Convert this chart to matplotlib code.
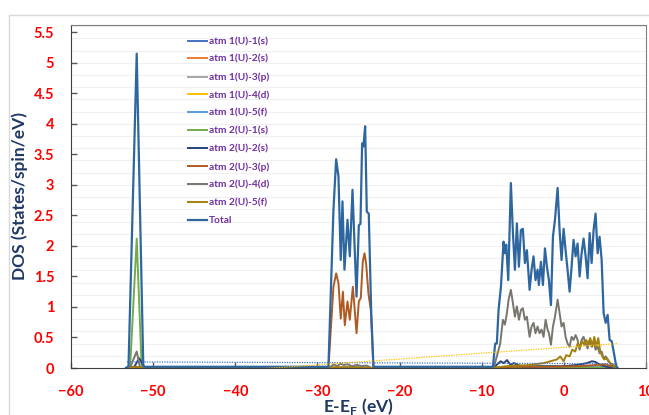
import numpy as np
import matplotlib.pyplot as plt
from matplotlib.patches import Rectangle

# Energies (eV) and DOS values (states/spin/eV)

# Total
e_tot = [-53.3, -53.0, -52.0, -51.2, -51.0,
         -28.66, -28.05, -27.72, -27.44, -27.16, -26.95, -26.71, -26.34, -26.06, -25.73,
         -25.49, -25.24, -24.96, -24.76, -24.56, -24.4, -24.19, -23.99, -23.75, -23.46, -23.18,
         -8.64, -8.36, -8.16, -7.95, -7.66, -7.34, -7.18, -7.01, -6.77, -6.45, -6.2, -5.96,
         -5.72, -5.47, -5.23, -4.99, -4.74, -4.5, -4.17, -3.93, -3.69, -3.45, -3.2, -3.04,
         -2.79, -2.55, -2.3, -2.06, -1.82, -1.57, -1.33, -1.08, -0.76, -0.52, -0.28, -0.03,
         0.21, 0.45, 0.7, 0.94, 1.18, 1.43, 1.67, 1.92, 2.16, 2.4, 2.65, 2.89, 3.14, 3.38,
         3.62, 3.86, 4.11, 4.35, 4.6, 4.84, 5.09, 5.33, 5.57, 5.82, 6.06, 6.31, 6.47]
d_tot = [0, 0.03, 5.15, 0.03, 0.02,
         0.02, 2.59, 3.42, 3.14, 1.77, 2.73, 1.61, 2.43, 1.83, 2.92,
         2.05, 1.17, 2.34, 2.36, 3.68, 3.63, 3.96, 2.56, 2.53, 0.95, 0.02,
         0.02, 0.40, 0.40, 0.95, 1.33, 2.07, 1.88, 2.02, 1.44, 3.03, 2.21, 1.61,
         2.37, 1.66, 2.26, 2.28, 1.72, 1.93, 1.28, 1.61, 1.83, 1.44, 1.61, 1.36,
         1.74, 1.36, 1.96, 1.66, 1.44, 1.03, 2.15, 2.43, 2.95, 2.26, 1.77, 2.28,
         1.93, 1.61, 1.25, 1.66, 2.10, 1.83, 2.04, 1.50, 1.88, 2.12, 1.83, 1.47, 2.21, 1.72,
         2.26, 2.53, 1.88, 2.15, 1.77, 0.90, 0.74, 0.87, 0.46, 0.44, 0.27, 0.08, 0]

# atm 2(U)-3(p)
e_23p = [-53.3, -51.0, -28.66, -28.05, -27.72, -27.44, -27.16, -26.9, -26.67, -26.34, -26.06,
         -25.69, -25.49, -25.24, -24.96, -24.72, -24.48, -24.27, -24.07, -23.79, -23.5, -23.18,
         -8.6, -6.0, -2.0, 2.0, 4.0, 5.0, 5.8, 6.5]
d_23p = [0, 0, 0, 1.33, 1.55, 1.39, 0.81, 1.25, 0.70, 1.09, 0.79,
         1.33, 1.00, 0.57, 1.09, 1.15, 1.74, 1.88, 1.71, 1.22, 0.95, 0,
         0, 0.02, 0.02, 0.03, 0.05, 0.06, 0.03, 0]

# atm 2(U)-4(d)
e_24d = [-53.3, -52.8, -52.0, -51.6, -51.0,
         -28.6, -28.0, -27.6, -27.2, -26.8, -26.3, -25.8, -25.2, -24.6, -24.0, -23.4,
         -8.56, -8.16, -7.75, -7.42, -7.18, -6.93, -6.73, -6.45, -6.2, -5.96, -5.72, -5.47,
         -5.23, -4.99, -4.74, -4.5, -4.17, -3.93, -3.69, -3.45, -3.2, -2.96, -2.71, -2.47,
         -2.22, -1.98, -1.82, -1.57, -1.33, -1.08, -0.76, -0.52, -0.28, -0.03, 0.21, 0.45,
         0.7, 0.94, 1.18, 1.43, 1.67, 1.92, 2.16, 2.4, 2.65, 2.89, 3.14, 3.38, 3.62, 3.86,
         4.11, 4.35, 4.6, 4.84, 5.09, 5.41, 5.82, 6.26]
d_24d = [0, 0.01, 0.27, 0.01, 0,
         0, 0.06, 0.03, 0.07, 0.05, 0.06, 0.03, 0.05, 0.03, 0.04, 0,
         0, 0.19, 0.40, 0.79, 0.71, 0.90, 1.12, 1.28, 1.06, 0.84, 1.01, 0.79,
         0.95, 0.98, 0.79, 0.84, 0.51, 0.68, 0.74, 0.57, 0.68, 0.57, 0.63, 0.51,
         0.79, 0.63, 0.57, 0.38, 0.68, 0.84, 1.12, 0.90, 0.68, 0.74, 0.51, 0.40,
         0.35, 0.51, 0.46, 0.54, 0.46, 0.30, 0.46, 0.51, 0.40, 0.32, 0.46, 0.35, 0.44, 0.30,
         0.35, 0.24, 0.27, 0.16, 0.19, 0.11, 0.05, 0]

# atm 2(U)-5(f)
e_25f = [-53.3, -52.0, -51.0, -28.6, -26.0, -23.3, -8.6, -7.0, -4.1, -2.47, -1.65, -0.85,
         -0.44, -0.03, 0.29, 0.7, 1.02, 1.39, 1.67, 2.0, 2.24, 2.49, 2.73, 2.97, 3.22,
         3.46, 3.7, 3.95, 4.19, 4.43, 4.68, 4.92, 5.25, 5.65, 6.06, 6.39]
d_25f = [0, 0.02, 0, 0.01, 0.01, 0, 0, 0.03, 0.05, 0.08, 0.11, 0.14,
         0.19, 0.11, 0.21, 0.19, 0.30, 0.27, 0.40, 0.35, 0.44, 0.38, 0.46, 0.38, 0.49,
         0.35, 0.51, 0.35, 0.49, 0.27, 0.19, 0.14, 0.16, 0.08, 0.05, 0]

# atm 2(U)-2(s)
e_22s = [-53.3, -52.3, -51.7, -51.0, -28.6, -23.3, -8.6, -7.7, -7.3, -6.93, -6.5, -6.1,
         -5.0, -2.0, 0.0, 1.59, 2.81, 3.42, 3.82, 4.43, 5.25, 6.06, 6.5]
d_22s = [0, 0.02, 0.16, 0, 0, 0, 0, 0.11, 0.08, 0.13, 0.05, 0.08,
         0.02, 0.03, 0.03, 0.05, 0.08, 0.11, 0.10, 0.05, 0.02, 0, 0]

# atm 2(U)-1(s)
e_21s = [-53.3, -52.8, -52.0, -51.4, -51.0, -28.6, -23.3, -8.6, -5.0, -3.0, -1.0, 1.0, 6.5]
d_21s = [0, 0.02, 2.12, 0.02, 0, 0, 0, 0, 0.02, 0.03, 0.02, 0.01, 0]

# atm 1(U) series: hardly off the axis
e_11s = [-53.3, -52.0, -51.0, -28.6, -26.0, -23.3, -8.6, -2.0, 3.0, 6.5]
d_11s = [0, 0.01, 0, 0, 0.01, 0, 0, 0.01, 0.01, 0]
e_12s = [-53.3, -52.0, -51.0, -28.6, -26.0, -23.3, -8.6, -2.0, 3.0, 6.5]
d_12s = [0, 0.01, 0, 0, 0.02, 0, 0, 0.01, 0.02, 0]
e_13p = [-53.3, -52.0, -51.0, -28.6, -26.0, -23.3, -8.6, -2.0, 3.0, 6.5]
d_13p = [0, 0.02, 0, 0, 0.01, 0, 0, 0.01, 0.01, 0]
e_14d = [-53.3, -52.0, -51.0, -28.6, -26.0, -23.3, -8.6, -2.0, 3.0, 6.5]
d_14d = [0, 0.01, 0, 0, 0.01, 0, 0, 0.02, 0.02, 0]
e_15f = [-53.3, -52.0, -51.0, -28.6, -26.0, -23.3, -8.6, -2.0, 3.0, 6.5]
d_15f = [0, 0.01, 0, 0, 0.01, 0, 0, 0.01, 0.02, 0]

# dotted linear trend lines (end points)
e_trend = [-53.2, 6.5]
d_trend_15f = [0.10, 0.07]
d_trend_14d = [-0.17, 0.40]

labels = ['atm 1(U)-1(s)', 'atm 1(U)-2(s)', 'atm 1(U)-3(p)', 'atm 1(U)-4(d)', 'atm 1(U)-5(f)',
          'atm 2(U)-1(s)', 'atm 2(U)-2(s)', 'atm 2(U)-3(p)', 'atm 2(U)-4(d)', 'atm 2(U)-5(f)',
          'Total']
colors = ['#4472C4', '#ED7D31', '#A5A5A5', '#FFC000', '#5B9BD5',
          '#70AD47', '#264478', '#B05A22', '#77756E', '#A4800E', '#2E67A0']
series = [(e_11s, d_11s), (e_12s, d_12s), (e_13p, d_13p), (e_14d, d_14d), (e_15f, d_15f),
          (e_21s, d_21s), (e_22s, d_22s), (e_23p, d_23p), (e_24d, d_24d), (e_25f, d_25f),
          (e_tot, d_tot)]

plt.rcParams['font.family'] = ['Lato', 'DejaVu Sans']

fig = plt.figure(figsize=(6.49, 4.15), dpi=100)
# outer chart border
fig.patches.append(Rectangle((9 / 649, -0.1), 1.2, 1 - 15 / 415 + 0.1, transform=fig.transFigure,
                             fill=False, edgecolor='#D9D9D9', linewidth=1))
ax = fig.add_axes([71 / 649, 1 - 368 / 415, 575 / 649, 343 / 415])

for (e, d), lab, c in zip(series, labels, colors):
    lw = 1.6 if lab == 'Total' else 1.4
    ax.plot(e, d, color=c, lw=lw, label=lab)

ax.plot(e_trend, d_trend_15f, color='#4472C4', lw=0.9, ls=(0, (1, 1)))
ax.plot(e_trend, d_trend_14d, color='#FFC000', lw=0.9, ls=(0, (1, 1)))

ax.set_xlim(-60, 10)
ax.set_ylim(0, 5.62)
ax.set_xticks(np.arange(-60, 11, 10))
ax.set_yticks(np.arange(0, 5.51, 0.5))
ax.set_yticklabels(['0', '0.5', '1', '1.5', '2', '2.5', '3', '3.5', '4', '4.5', '5', '5.5'])
for y in np.arange(0.2, 5.61, 0.2):
    ax.axhline(y, color='#F0F0F0', lw=0.8, zorder=0)

ax.tick_params(direction='in', length=4, width=1, colors='#595959', pad=12,
               labelcolor='red', labelsize=10.5)
for lbl in ax.get_xticklabels() + ax.get_yticklabels():
    lbl.set_fontweight('bold')
for side in ['top', 'right']:
    ax.spines[side].set_color('#7F7F7F')
for side in ['left', 'bottom']:
    ax.spines[side].set_color('#404040')

ax.set_ylabel('DOS (States/spin/eV)', color='#1F3864', fontsize=12.5, fontweight='bold', labelpad=4)
ax.set_xlabel('E-E$_\\mathregular{F}$ (eV)', color='#1F3864', fontsize=12.5, fontweight='bold',
              labelpad=-2)

leg = ax.legend(loc='upper left', bbox_to_anchor=(188 / 649, 1 - 37 / 415),
                bbox_transform=fig.transFigure, frameon=False,
                prop={'weight': 'bold', 'size': 7.3}, labelcolor='#7030A0',
                handlelength=1.9, handletextpad=0.2, labelspacing=0.86,
                borderpad=0, borderaxespad=0)

fig.savefig('out.png', dpi=100)
